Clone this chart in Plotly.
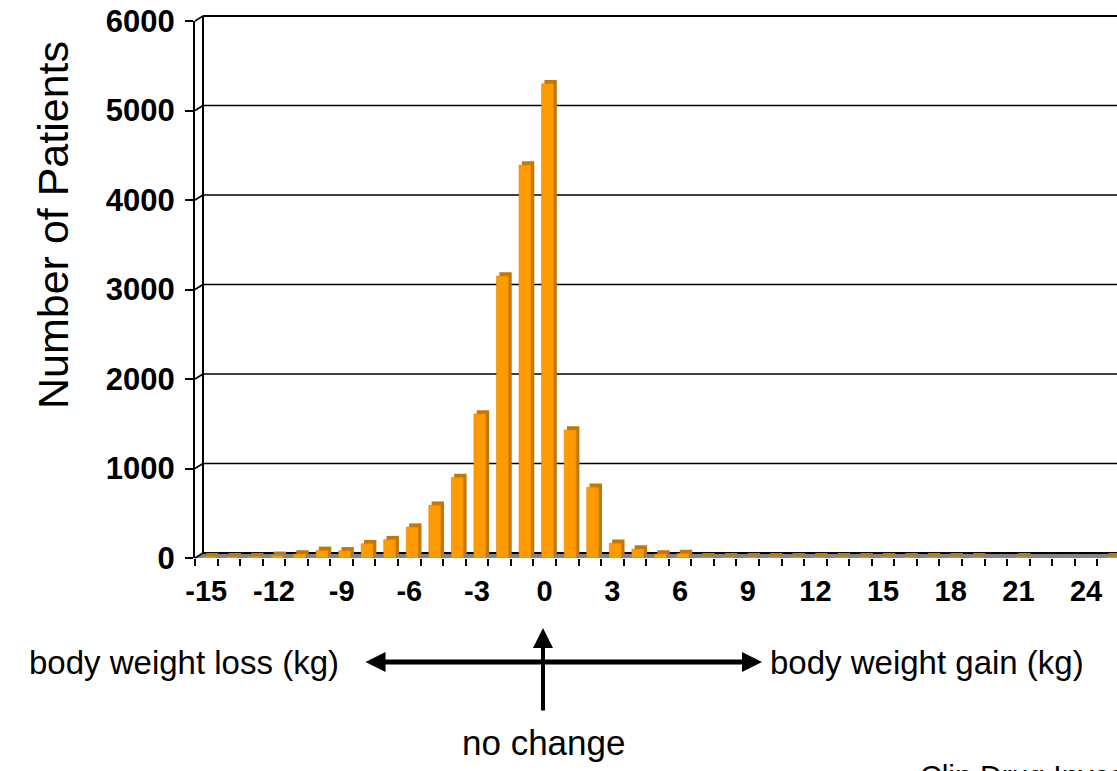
import plotly.graph_objects as go

# ---- data ----
weight_change = list(range(-15, 26))
patients = [15, 12, 15, 30, 45, 85, 80, 160, 205, 345, 590, 900, 1610, 3150, 4390,
            5300, 1430, 790, 165, 100, 45, 50, 10, 10, 10, 10, 10, 10, 10, 10,
            10, 10, 10, 10, 10, 0, 10, 0, 0, 0, 10]
tick_vals = list(range(-15, 25, 3))
tick_text = [str(v) for v in tick_vals]
y_ticks = [0, 1000, 2000, 3000, 4000, 5000, 6000]

# ---- geometry (pixels) ----
W, H = 1117, 771
L, R, T, B = 195, 0, 21, 213
PW, PH = W - L - R, H - T - B
DX, DY = 8 / PW, 5 / PH  # depth offset of back wall in paper units
YMAX = 6000

FONT = "Liberation Sans, Arial, sans-serif"

fig = go.Figure()

# back/side face (gives the 3D cap)
fig.add_trace(go.Bar(
    x=weight_change, y=patients, base=42, width=0.55, offset=-0.01,
    marker=dict(color="#C27709", line=dict(width=0)), hoverinfo="skip", showlegend=False))
# front face
fig.add_trace(go.Bar(
    x=weight_change, y=patients, width=0.53, offset=-0.135,
    marker=dict(color="#FF9A00", line=dict(width=0.6, color="#E08600")), showlegend=False))

shapes = []
# floor
shapes.append(dict(type="path", xref="paper", yref="paper",
                   path=f"M 0 0 L 1.02 0 L 1.02 {DY} L {DX} {DY} Z",
                   fillcolor="#858585", line=dict(width=0), layer="below"))
shapes.append(dict(type="line", xref="paper", yref="paper", x0=DX, x1=1.02, y0=DY, y1=DY,
                   line=dict(color="black", width=2), layer="below"))
# back wall left edge and top
shapes.append(dict(type="line", xref="paper", yref="paper", x0=DX, x1=DX, y0=DY, y1=1 + DY,
                   line=dict(color="black", width=2), layer="below"))
shapes.append(dict(type="line", xref="paper", yref="paper", x0=DX, x1=1.02, y0=1 + DY, y1=1 + DY,
                   line=dict(color="black", width=2), layer="below"))
for v in y_ticks:
    yp = v / YMAX
    shapes.append(dict(type="line", xref="paper", yref="paper", x0=0, x1=DX, y0=yp, y1=yp + DY,
                       line=dict(color="black", width=1.5), layer="below"))
    if 0 < v < YMAX:
        shapes.append(dict(type="line", xref="paper", yref="paper", x0=DX, x1=1.02,
                           y0=yp + DY, y1=yp + DY, line=dict(color="black", width=1.5),
                           layer="below"))

def px_x(p):
    return (p - L) / PW

def px_y(p):
    return (T + PH - p) / PH

annotations = [
    dict(text="Number of Patients", xref="paper", yref="paper", x=px_x(53), y=px_y(225),
         textangle=-90, showarrow=False, font=dict(size=43, color="black", family=FONT),
         xanchor="center", yanchor="middle"),
    dict(text="body weight loss (kg)", xref="paper", yref="paper", x=px_x(341), y=px_y(662),
         showarrow=False, font=dict(size=33, color="black", family=FONT),
         xanchor="right", yanchor="middle"),
    dict(text="body weight gain (kg)", xref="paper", yref="paper", x=px_x(768), y=px_y(662),
         showarrow=False, font=dict(size=33, color="black", family=FONT),
         xanchor="left", yanchor="middle"),
    dict(text="no change", xref="paper", yref="paper", x=px_x(543), y=px_y(742),
         showarrow=False, font=dict(size=35, color="black", family=FONT),
         xanchor="center", yanchor="middle"),
    dict(text="Clin Drug Invest", xref="paper", yref="paper", x=px_x(918), y=px_y(757),
         showarrow=False, font=dict(size=30, color="black", family=FONT),
         xanchor="left", yanchor="top"),
    # horizontal double arrow
    dict(text="", xref="paper", yref="paper", x=px_x(762), y=px_y(662),
         axref="pixel", ayref="pixel", ax=-398, ay=0, showarrow=True,
         arrowhead=2, startarrowhead=2, arrowside="end+start", arrowwidth=5,
         arrowsize=0.8, startarrowsize=0.8, arrowcolor="black"),
    # vertical arrow
    dict(text="", xref="paper", yref="paper", x=px_x(543), y=px_y(628),
         axref="pixel", ayref="pixel", ax=0, ay=84, showarrow=True,
         arrowhead=2, arrowwidth=4, arrowsize=1.0, arrowcolor="black"),
]

fig.update_layout(
    width=W, height=H,
    margin=dict(l=L, r=R, t=T, b=B, pad=0),
    paper_bgcolor="white", plot_bgcolor="rgba(0,0,0,0)",
    barmode="overlay",
    shapes=shapes, annotations=annotations,
    font=dict(family=FONT, color="black"),
    xaxis=dict(range=[-15.5, 25.37], tickmode="array", tickvals=tick_vals, ticktext=tick_text,
               ticks="", showgrid=False, zeroline=False, showline=False,
               tickfont=dict(size=29, family=FONT, color="black", weight="bold"),
               ticklabelstandoff=13,
               minor=dict(tickmode="linear", tick0=-15.5, dtick=1, ticks="outside",
                          ticklen=7, tickwidth=2, tickcolor="black", showgrid=False)),
    yaxis=dict(range=[0, YMAX], tickmode="array", tickvals=y_ticks, ticks="outside",
               ticklen=8, tickwidth=2, tickcolor="black", showline=True, linewidth=2,
               linecolor="black", showgrid=False, zeroline=False,
               tickfont=dict(size=31, family=FONT, color="black", weight="bold"),
               ticklabelstandoff=4),
)

fig.write_html("out.html")
